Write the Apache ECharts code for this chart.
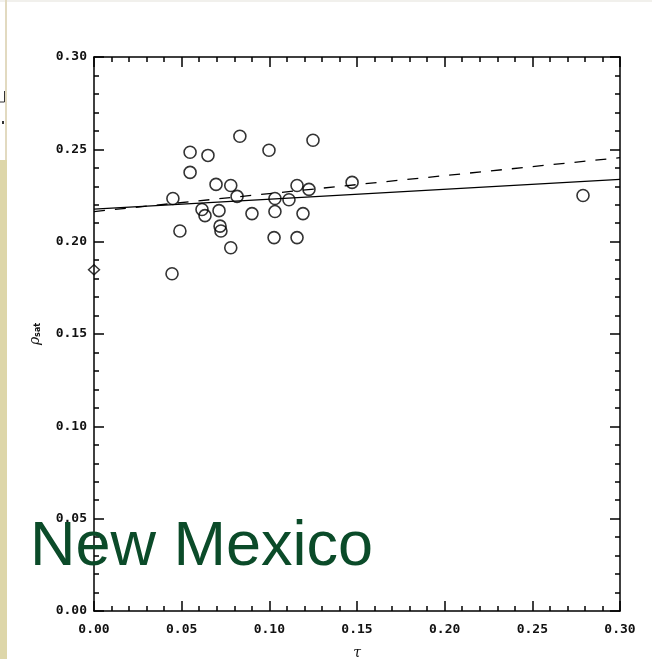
<!DOCTYPE html>
<html><head><meta charset="utf-8">
<script src="https://cdn.jsdelivr.net/npm/echarts@6/dist/echarts.min.js"></script>
<style>html,body{margin:0;padding:0;background:#fff}#c{width:652px;height:659px}</style>
</head><body><div id="c"></div>
<script>
// data
var tauValues = [0.0445,0.045,0.049,0.0548,0.0548,0.0616,0.0633,0.065,0.0696,0.0713,0.0719,0.0724,0.078,0.078,0.0816,0.0832,0.0901,0.0998,0.1027,0.1032,0.1032,0.1112,0.1158,0.1158,0.1192,0.1226,0.1249,0.1472,0.2789];
var rhoValues = [0.1826,0.2234,0.2058,0.2484,0.2375,0.2174,0.2141,0.2467,0.2310,0.2168,0.2084,0.2058,0.2304,0.1967,0.2245,0.2571,0.2152,0.2495,0.2022,0.2234,0.2163,0.2227,0.2022,0.2304,0.2152,0.2283,0.2549,0.2321,0.2250];
var diamondTau = [0.0];
var diamondRho = [0.1848];
var solidFitTau = [0.0, 0.30];
var solidFitRho = [0.2176, 0.2337];
var dashedFitTau = [0.0, 0.30];
var dashedFitRho = [0.2163, 0.2455];
var xTickLabels = ['0.00','0.05','0.10','0.15','0.20','0.25','0.30'];
var yTickLabels = ['0.00','0.05','0.10','0.15','0.20','0.25','0.30'];

function zip(a,b){return a.map(function(v,i){return [v,b[i]];});}
var tickFont = {fontFamily:'DejaVu Sans Mono', fontWeight:'bold', fontSize:13, color:'#111'};
function fmtX(v){var i=Math.round(v/0.05);return xTickLabels[i]||'';}
function fmtY(v){var i=Math.round(v/0.05);return yTickLabels[i]||'';}
var axLine = {show:true, onZero:false, lineStyle:{color:'#000', width:1.5}};
var tick = {show:true, inside:true, length:10, lineStyle:{color:'#000', width:1.5}};
var minor = {show:true, splitNumber:5, length:5, lineStyle:{color:'#000', width:1.5}};

var chart = echarts.init(document.getElementById('c'), null, {renderer:'canvas'});
chart.setOption({
  animation:false,
  backgroundColor:'#fff',
  grid:{left:94, top:57, width:526, height:554, containLabel:false, outerBoundsMode:'none'},
  xAxis:[
    {type:'value', min:0, max:0.3, interval:0.05, position:'bottom',
     axisLine:axLine, axisTick:tick, minorTick:minor, splitLine:{show:false},
     axisLabel:Object.assign({margin:12, formatter:fmtX, showMinLabel:true, showMaxLabel:true}, tickFont),
     name:'τ', nameLocation:'middle', nameGap:35,
     nameTextStyle:{fontFamily:'DejaVu Serif', fontStyle:'italic', fontSize:14, color:'#111'}},
    {type:'value', min:0, max:0.3, interval:0.05, position:'top',
     axisLine:axLine, axisTick:tick, minorTick:minor, splitLine:{show:false}, axisLabel:{show:false}}
  ],
  yAxis:[
    {type:'value', min:0, max:0.3, interval:0.05, position:'left',
     axisLine:axLine, axisTick:tick, minorTick:minor, splitLine:{show:false},
     axisLabel:Object.assign({margin:7, formatter:fmtY}, tickFont),
     name:'{a|ρ}{b|sat}', nameLocation:'middle', nameGap:52, nameRotate:90,
     nameTextStyle:{rich:{a:{fontFamily:'DejaVu Serif', fontStyle:'italic', fontSize:14, color:'#111'},
                          b:{fontFamily:'DejaVu Sans', fontWeight:'bold', fontSize:8, color:'#111', verticalAlign:'bottom', padding:[6,0,0,0]}}}},
    {type:'value', min:0, max:0.3, interval:0.05, position:'right',
     axisLine:axLine, axisTick:tick, minorTick:minor, splitLine:{show:false}, axisLabel:{show:false}}
  ],
  series:[
    {type:'line', data:zip(solidFitTau, solidFitRho), symbol:'none', lineStyle:{color:'#000', width:1.3}, clip:false},
    {type:'line', data:zip(dashedFitTau, dashedFitRho), symbol:'none', lineStyle:{color:'#000', width:1.3, type:[11,10]}, clip:false},
    {type:'scatter', data:zip(tauValues, rhoValues), symbol:'circle', symbolSize:12,
     itemStyle:{color:'rgba(0,0,0,0)', borderColor:'#000', borderWidth:1.6}, clip:false},
    {type:'scatter', data:zip(diamondTau, diamondRho), symbol:'diamond', symbolSize:[11,10],
     itemStyle:{color:'rgba(0,0,0,0)', borderColor:'#000', borderWidth:1.4}, clip:false}
  ],
  graphic:[
    {type:'rect', shape:{x:0,y:0,width:652,height:2}, style:{fill:'#f1f0ec'}, z:-1},
    {type:'rect', shape:{x:5,y:0,width:2,height:160}, style:{fill:'#e2dac0'}},
    {type:'rect', shape:{x:0,y:160,width:7,height:499}, style:{fill:'#ddd6a9'}},
    {type:'polyline', shape:{points:[[4.5,91],[4.5,102],[0,102]]}, style:{stroke:'#333', lineWidth:1, fill:null}},
    {type:'rect', shape:{x:2,y:121,width:2,height:3}, style:{fill:'#333'}},
    {type:'text', left:30, top:516, z:100,
     style:{text:'New Mexico', font:'63px "Liberation Sans", Arial, sans-serif', fill:'#0b4b29'}}
  ]
});
</script></body></html>
